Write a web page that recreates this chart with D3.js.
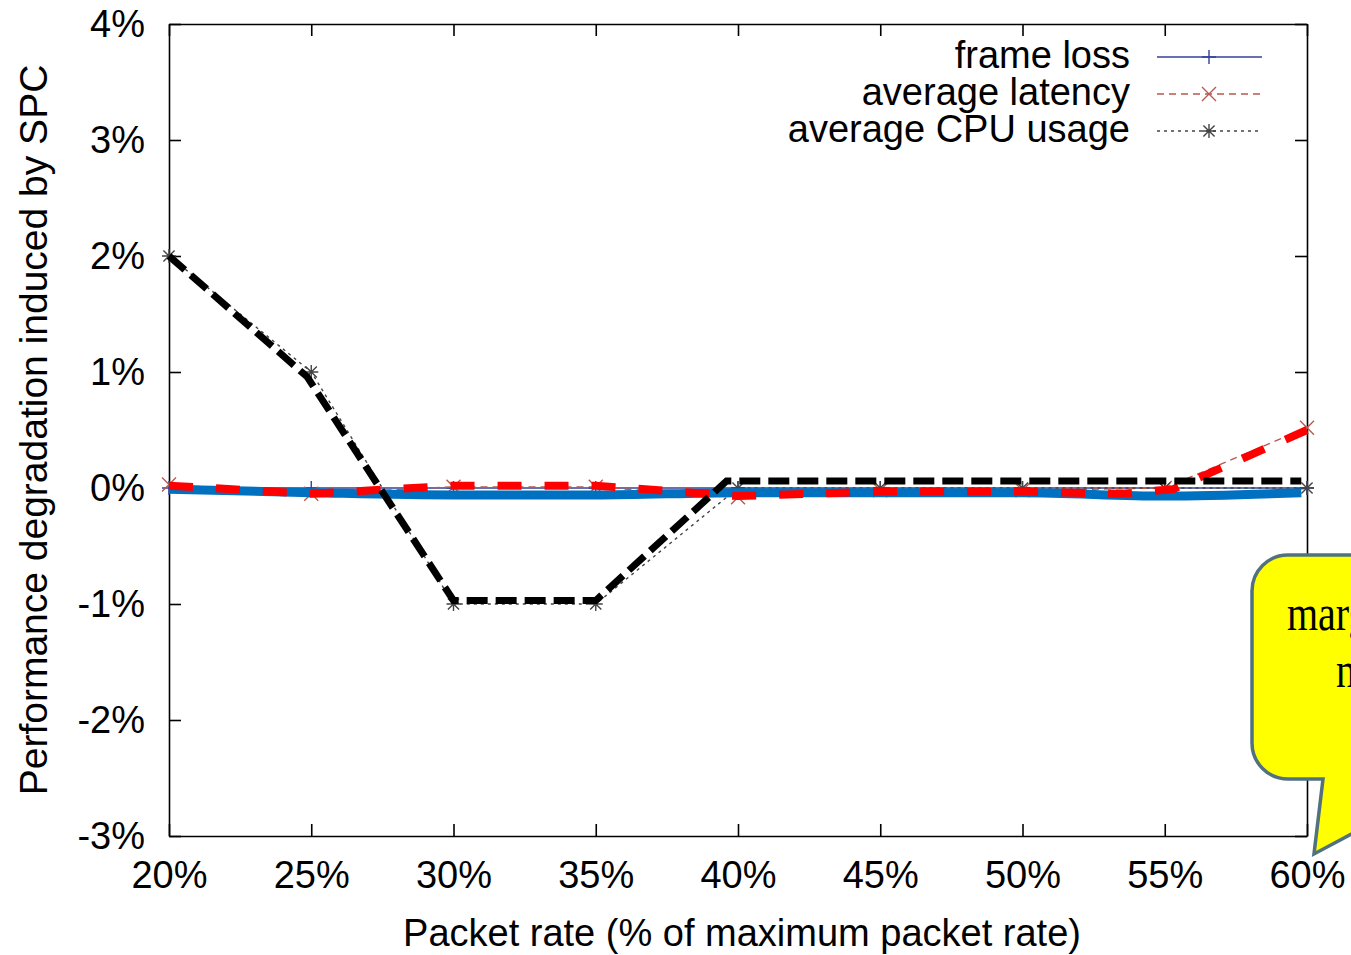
<!DOCTYPE html>
<html lang="en">
<head>
    <meta charset="UTF-8">
    <title>Performance degradation induced by SPC</title>
    <script src="https://d3js.org/d3.v7.min.js"></script>
    <style>
        body {
            margin: 0;
            background: #ffffff;
            font-family: "Liberation Sans", Arial, sans-serif;
        }
        svg {
            display: block;
        }
        .axis text {
            font-family: "Liberation Sans", Arial, sans-serif;
            font-size: 38px;
            fill: #000;
        }
        .axis line, .axis path {
            stroke: #000;
            stroke-width: 1.6;
        }
    </style>
</head>
<body>
<div id="chart"></div>

<script>
    // x values (packet rate, %)
    const packetRates = [20, 25, 30, 35, 40, 45, 50, 55, 60];
    const xTicks = [20, 25, 30, 35, 40, 45, 50, 55, 60];
    const yTicks = [-3, -2, -1, 0, 1, 2, 3, 4];

    // measured series (degradation, %)
    const frameLoss = [0, 0, 0, 0, 0, 0, 0, 0, 0];
    const avgLatency = [0.03, -0.05, 0.01, 0.01, -0.08, -0.02, -0.02, 0, 0.52];
    const avgCpu = [2, 1, -1, -1, 0, 0, 0, 0, 0];

    // hand-drawn trend overlays
    const blueTrendX = [20, 25, 30, 35, 40, 45, 50, 55, 59.8];
    const blueTrendY = [-0.01, -0.04, -0.06, -0.06, -0.04, -0.04, -0.04, -0.07, -0.04];
    const redTrendX = [20, 25, 30, 35, 40, 45, 50, 53.5, 55.3, 60];
    const redTrendY = [0.02, -0.05, 0.02, 0.02, -0.07, -0.03, -0.03, -0.05, -0.01, 0.5];
    const blackTrendX = [20, 24.85, 30, 35, 39.6, 59.8];
    const blackTrendY = [2.0, 0.96, -0.97, -0.97, 0.06, 0.06];

    const legendNames = ["frame loss", "average latency", "average CPU usage"];
    const calloutLines = ["marginal", "noise"];

    const width = 1351, height = 955;
    const margin = { top: 24, right: 44, bottom: 119, left: 169 };

    const svg = d3.select("#chart").append("svg")
        .attr("width", width)
        .attr("height", height);

    const x = d3.scaleLinear().domain([20, 60]).range([margin.left, width - margin.right]);
    const y = d3.scaleLinear().domain([-3, 4]).range([height - margin.bottom, margin.top]);

    const pct = d => d + "%";

    // axes, gnuplot style: inward ticks on all four sides
    svg.append("g").attr("class", "axis")
        .attr("transform", `translate(0, ${y(-3)})`)
        .call(d3.axisBottom(x).tickValues(xTicks).tickFormat(pct).tickSizeInner(-12).tickSizeOuter(0).tickPadding(25));

    svg.append("g").attr("class", "axis")
        .attr("transform", `translate(0, ${y(4)})`)
        .call(d3.axisTop(x).tickValues(xTicks).tickFormat("").tickSizeInner(-12).tickSizeOuter(0));

    svg.append("g").attr("class", "axis")
        .attr("transform", `translate(${x(20)}, 0)`)
        .call(d3.axisLeft(y).tickValues(yTicks).tickFormat(pct).tickSizeInner(-12).tickSizeOuter(0).tickPadding(24));

    svg.append("g").attr("class", "axis")
        .attr("transform", `translate(${x(60)}, 0)`)
        .call(d3.axisRight(y).tickValues(yTicks).tickFormat("").tickSizeInner(-12).tickSizeOuter(0));

    svg.selectAll(".axis .tick text").attr("fill", "#000");

    // axis titles
    svg.append("text")
        .attr("x", (x(20) + x(60)) / 2 + 4)
        .attr("y", 946)
        .attr("text-anchor", "middle")
        .attr("font-size", 38)
        .text("Packet rate (% of maximum packet rate)");

    svg.append("text")
        .attr("transform", `translate(47, ${(y(-3) + y(4)) / 2}) rotate(-90)`)
        .attr("text-anchor", "middle")
        .attr("font-size", 39)
        .text("Performance degradation induced by SPC");

    // marker shapes
    function plusPath(cx, cy, s) {
        return `M${cx - s},${cy}H${cx + s}M${cx},${cy - s}V${cy + s}`;
    }
    function crossPath(cx, cy, s) {
        return `M${cx - s},${cy - s}L${cx + s},${cy + s}M${cx - s},${cy + s}L${cx + s},${cy - s}`;
    }
    function starPath(cx, cy, s) {
        return plusPath(cx, cy, s) + crossPath(cx, cy, s * 0.8);
    }

    const series = [
        { name: legendNames[0], values: frameLoss, color: "#34409a", dash: null, marker: plusPath },
        { name: legendNames[1], values: avgLatency, color: "#b8594f", dash: "7,5", marker: crossPath },
        { name: legendNames[2], values: avgCpu, color: "#444", dash: "3,4", marker: starPath }
    ];

    const line = d3.line().x(d => x(d[0])).y(d => y(d[1]));

    series.forEach(s => {
        const pts = packetRates.map((r, i) => [r, s.values[i]]);
        svg.append("path")
            .attr("d", line(pts))
            .attr("fill", "none")
            .attr("stroke", s.color)
            .attr("stroke-width", 1.4)
            .attr("stroke-dasharray", s.dash);
        svg.append("g").selectAll("path")
            .data(pts)
            .join("path")
            .attr("d", d => s.marker(x(d[0]), y(d[1]), 7))
            .attr("stroke", s.color)
            .attr("stroke-width", 1.4)
            .attr("fill", "none");
    });

    // legend
    const legend = svg.append("g");
    series.forEach((s, i) => {
        const base = 68 + i * 37;
        legend.append("text")
            .attr("x", 1130)
            .attr("y", base)
            .attr("text-anchor", "end")
            .attr("font-size", 38)
            .text(s.name);
        legend.append("line")
            .attr("x1", 1157).attr("x2", 1262)
            .attr("y1", base - 11).attr("y2", base - 11)
            .attr("stroke", s.color)
            .attr("stroke-width", 1.4)
            .attr("stroke-dasharray", s.dash);
        legend.append("path")
            .attr("d", s.marker(1209, base - 11, 7))
            .attr("stroke", s.color)
            .attr("stroke-width", 1.4)
            .attr("fill", "none");
    });

    // thick overlays
    const overlays = [
        { xs: blueTrendX, ys: blueTrendY, color: "#0070c0", width: 9, dash: null, curve: d3.curveMonotoneX },
        { xs: redTrendX, ys: redTrendY, color: "#ff0000", width: 8, dash: "24,23", curve: d3.curveLinear },
        { xs: blackTrendX, ys: blackTrendY, color: "#000000", width: 7, dash: "21,8", curve: d3.curveLinear }
    ];

    overlays.forEach(o => {
        const pts = o.xs.map((v, i) => [v, o.ys[i]]);
        svg.append("path")
            .attr("d", line.curve(o.curve)(pts))
            .attr("fill", "none")
            .attr("stroke", o.color)
            .attr("stroke-width", o.width)
            .attr("stroke-dasharray", o.dash);
    });

    // callout bubble
    const bubble = { left: 1252, top: 555, right: 1700, bottom: 779, r: 36 };
    const tail = { left: 1323, right: 1455, tipX: 1314, tipY: 854 };
    const p = d3.path();
    p.moveTo(bubble.left + bubble.r, bubble.top);
    p.lineTo(bubble.right, bubble.top);
    p.lineTo(bubble.right, bubble.bottom);
    p.lineTo(tail.right, bubble.bottom);
    p.lineTo(tail.tipX, tail.tipY);
    p.lineTo(tail.left, bubble.bottom);
    p.lineTo(bubble.left + bubble.r, bubble.bottom);
    p.arcTo(bubble.left, bubble.bottom, bubble.left, bubble.bottom - bubble.r, bubble.r);
    p.lineTo(bubble.left, bubble.top + bubble.r);
    p.arcTo(bubble.left, bubble.top, bubble.left + bubble.r, bubble.top, bubble.r);
    p.closePath();

    svg.append("path")
        .attr("d", p.toString())
        .attr("fill", "#ffff00")
        .attr("stroke", "#52717f")
        .attr("stroke-width", 3.5)
        .attr("stroke-linejoin", "miter");

    const calloutX = [1287, 1336];
    const calloutY = [630, 687];
    calloutLines.forEach((t, i) => {
        svg.append("text")
            .attr("transform", `translate(${calloutX[i]}, ${calloutY[i]}) scale(0.8, 1)`)
            .attr("font-family", "'Liberation Serif', 'Times New Roman', serif")
            .attr("font-size", 50)
            .attr("fill", "#000")
            .text(t);
    });
</script>
</body>
</html>
